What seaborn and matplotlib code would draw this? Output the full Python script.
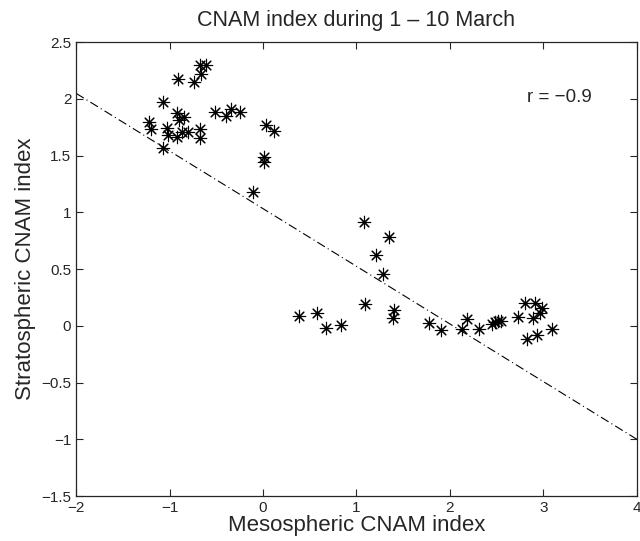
import matplotlib
matplotlib.use("Agg")
import matplotlib.pyplot as plt
import seaborn as sns
import numpy as np
import pandas as pd

meso = [-0.674, -0.613, -0.663, -0.906, -0.738, -1.073, -0.513, -0.396, -0.342, -0.246,
        -0.923, -0.842, -0.895, -1.216, -1.198, -1.030, -1.019, -0.917, -0.870, -0.799,
        -0.674, -0.674, -1.066, 0.032, 0.121, 0.011, 0.011, -0.110,
        1.084, 1.351, 1.205, 1.287, 1.094, 1.401, 1.394, 0.385, 0.581, 0.674, 0.831,
        1.779, 1.904, 2.125, 2.185, 2.313, 2.446, 2.481, 2.517, 2.545, 2.731,
        2.802, 2.909, 2.981, 2.963, 2.891, 2.827, 2.934, 3.094]
strato = [2.297, 2.297, 2.224, 2.180, 2.150, 1.969, 1.886, 1.851, 1.907, 1.881,
          1.872, 1.842, 1.813, 1.798, 1.733, 1.745, 1.681, 1.666, 1.710, 1.710,
          1.733, 1.660, 1.569, 1.769, 1.716, 1.484, 1.445, 1.181,
          0.917, 0.785, 0.629, 0.456, 0.189, 0.139, 0.071, 0.086, 0.110, -0.023, 0.007,
          0.027, -0.037, -0.029, 0.065, -0.031, 0.015, 0.036, 0.042, 0.045, 0.080,
          0.203, 0.198, 0.154, 0.115, 0.066, -0.119, -0.082, -0.031]

fit_slope = -0.508
fit_intercept = 1.033
line_x = [-2, 4]

xticks = [-2, -1, 0, 1, 2, 3, 4]
yticks = [-1.5, -1, -0.5, 0, 0.5, 1, 1.5, 2, 2.5]
title = "CNAM index during 1 \u2013 10 March"
xlabel = "Mesospheric CNAM index"
ylabel = "Stratospheric CNAM index"
annot = "r = \u22120.9"

sns.set_style("ticks")
plt.rcParams["font.family"] = ["Liberation Sans", "DejaVu Sans"]
plt.rcParams["xtick.direction"] = "in"
plt.rcParams["ytick.direction"] = "in"

fig = plt.figure(figsize=(6.4, 5.41), dpi=100)
ax = fig.add_axes([0.119, 0.083, 0.876, 0.839])

df = pd.DataFrame({"meso": meso, "strato": strato})
sns.scatterplot(data=df, x="meso", y="strato", ax=ax, marker=(8, 2, 0),
                s=80, color="black", edgecolor="black", linewidth=0.8, legend=False)

lx = np.array(line_x, dtype=float)
ax.plot(lx, fit_slope * lx + fit_intercept, color="black", linestyle=(0, (8, 3, 1, 3)),
        linewidth=0.8)

ax.set_xlim(-2, 4)
ax.set_ylim(-1.5, 2.5)
ax.set_xticks(xticks)
ax.set_yticks(yticks)
ax.set_xticklabels([f"{t:g}".replace("-", "\u2212") for t in xticks])
ax.set_yticklabels([f"{t:g}".replace("-", "\u2212") for t in yticks])
ax.tick_params(top=True, right=True, labelsize=11, length=5, width=0.8)
for sp in ax.spines.values():
    sp.set_visible(True)
    sp.set_linewidth(0.9)

ax.set_title(title, fontsize=15.5, pad=12)
ax.set_xlabel(xlabel, fontsize=16, labelpad=0)
ax.set_ylabel(ylabel, fontsize=16, labelpad=4)
ax.text(2.82, 2.015, annot, fontsize=13.5, va="center", ha="left")

fig.savefig("out.png", dpi=100)
